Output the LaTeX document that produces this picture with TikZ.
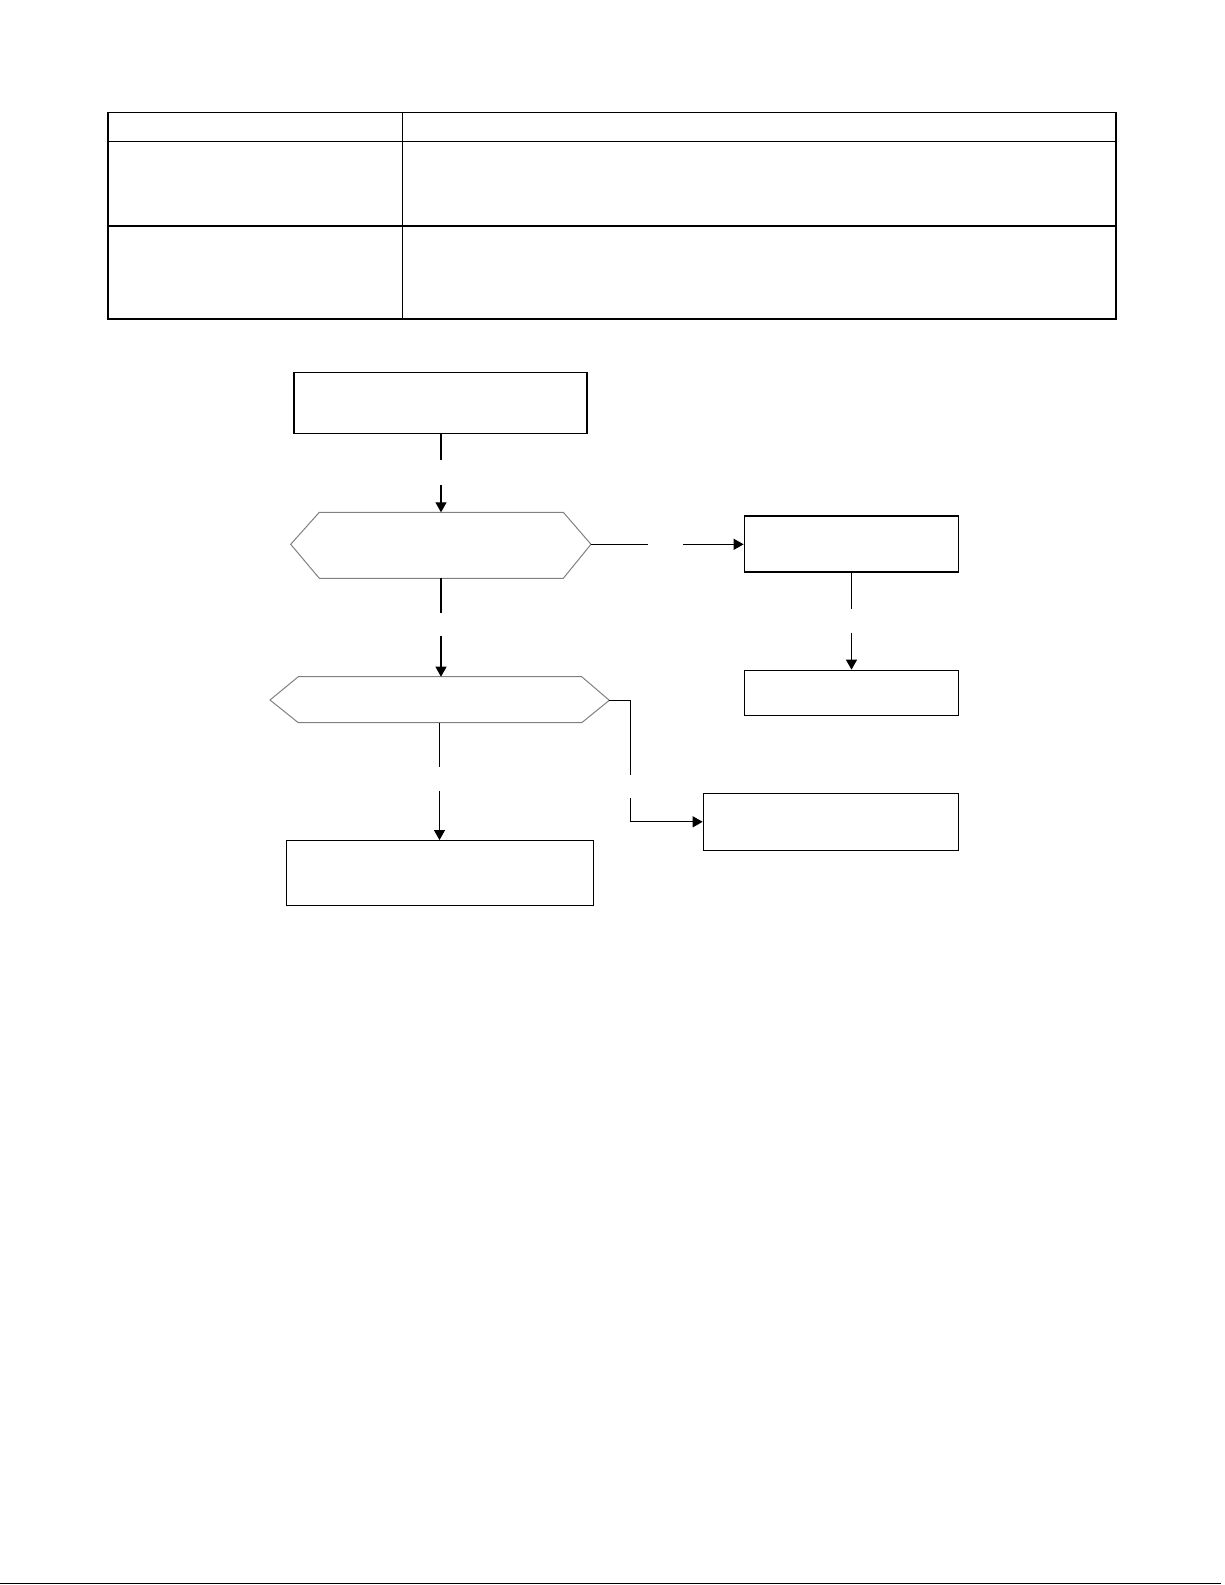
\documentclass[tikz,border=0pt]{standalone}
\usetikzlibrary{arrows.meta}
\begin{document}
\begin{tikzpicture}[x=0.5pt,y=-0.5pt,
  frame/.style={draw=black, line width=0.6pt},
  box/.style={draw=black, line width=0.65pt, rectangle, inner sep=0pt, fill=white},
  hexline/.style={draw=black!50, line width=0.5pt},
  conn/.style={draw=black, line width=0.6pt},
  arr/.style={draw=black, line width=0.6pt, -{Triangle[length=5pt,width=5.5pt]}}
]
\useasboundingbox (0,0) rectangle (1225,1585);
% table
\draw[frame] (108,112.3) rectangle (1116,319);
\draw[frame] (108,141.7) -- (1116,141.7);
\draw[frame] (108,226) -- (1116,226);
\draw[frame] (402.5,112.3) -- (402.5,319);
% bottom rule
\draw[line width=0.7pt] (0,1583.5) -- (1221,1583.5);

% boxes
\node[box, minimum width=146.5pt, minimum height=30.5pt] (b1) at (440.5,402.7) {};
\node[box, minimum width=153.3pt, minimum height=32.5pt] (bb) at (440,873.2) {};
\node[box, minimum width=107.2pt, minimum height=28pt] (r1) at (851.5,544) {};
\node[box, minimum width=107.2pt, minimum height=22.5pt] (r2) at (851.5,692.8) {};
\node[box, minimum width=127.7pt, minimum height=28.5pt] (r3) at (831,821.8) {};

% hexagon 1
\coordinate (h1top) at (441,512.3);
\coordinate (h1bot) at (441,578.3);
\coordinate (h1right) at (591,544.3);
\draw[hexline] (290.7,544.3) -- (319.3,512.3) -- (563.3,512.3) -- (h1right) -- (563.3,578.3) -- (319.3,578.3) -- cycle;
% hexagon 2
\coordinate (h2top) at (441,676.7);
\coordinate (h2bot) at (439.5,722.7);
\coordinate (h2right) at (609.3,700.3);
\draw[hexline] (270,700) -- (298.3,676.7) -- (581.7,676.7) -- (h2right) -- (581.7,722.7) -- (298.3,722.7) -- cycle;

% connector b1 -> h1
\coordinate (g1a) at (441,460);
\coordinate (g1b) at (441,485);
\draw[conn] (b1.south -| g1a) -- (g1a);
\draw[arr] (g1b) -- (h1top);
% connector h1 -> h2
\coordinate (g2a) at (441,612.5);
\coordinate (g2b) at (441,636);
\draw[conn] (h1bot) -- (g2a);
\draw[arr] (g2b) -- (h2top);
% connector h2 -> bb
\coordinate (g3a) at (439.5,766.7);
\coordinate (g3b) at (439.5,791);
\draw[conn] (h2bot) -- (g3a);
\draw[arr] (g3b) -- (bb.north -| g3b);
% connector h1 -> r1
\coordinate (g4a) at (647.7,544.3);
\coordinate (g4b) at (683.3,544.3);
\draw[conn] (h1right) -- (g4a);
\draw[arr] (g4b) -- (r1.west |- g4b);
% connector r1 -> r2
\coordinate (g5a) at (851.5,609.3);
\coordinate (g5b) at (851.5,632.7);
\draw[conn] (r1.south) -- (g5a);
\draw[arr] (g5b) -- (r2.north);
% connector h2 -> r3
\coordinate (g6a) at (630.3,774.7);
\coordinate (g6b) at (630.3,798.3);
\draw[conn] (h2right) -| (g6a);
\draw[arr] (g6b) |- (r3.west);
\end{tikzpicture}
\end{document}
